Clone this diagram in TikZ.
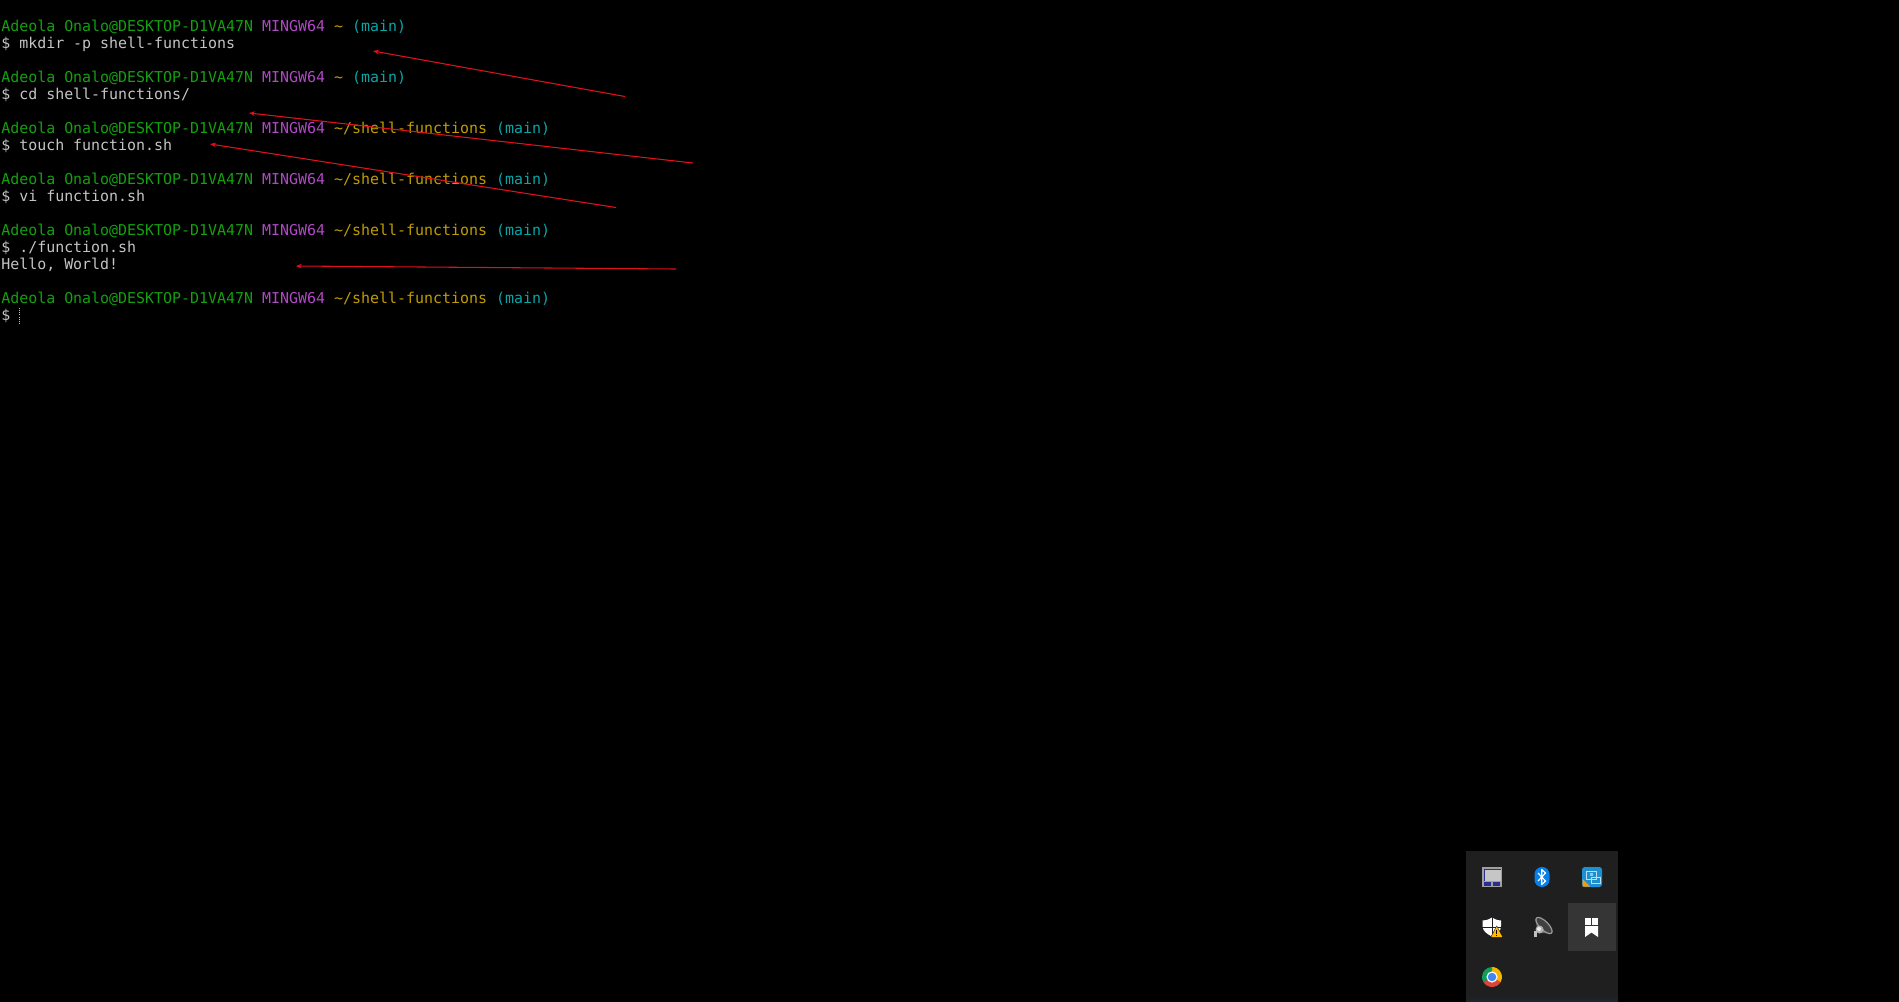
\documentclass[tikz,border=0pt]{standalone}
\usepackage{fontspec}
\setmonofont{DejaVu Sans Mono}
\usetikzlibrary{arrows.meta}
\definecolor{cgreen}{HTML}{13A10E}
\definecolor{cpurple}{HTML}{B148C6}
\definecolor{cyellow}{HTML}{C19C00}
\definecolor{cteal}{HTML}{0AA5A5}
\definecolor{cgrey}{HTML}{C4C4C4}
\definecolor{cred}{HTML}{E0101C}
\definecolor{traybg}{HTML}{1F1F1F}
\definecolor{trayfoot}{HTML}{1C2832}
\definecolor{trayhi}{HTML}{353535}
\definecolor{padblue}{HTML}{2A2F8F}
\definecolor{btblue}{HTML}{0A7FEA}
\definecolor{appblue}{HTML}{1E8FD0}
\definecolor{warnyellow}{HTML}{FFB900}
\definecolor{chromered}{HTML}{DB4437}
\definecolor{chromeyellow}{HTML}{F4B400}
\definecolor{chromegreen}{HTML}{0F9D58}
\definecolor{chromeblue}{HTML}{4285F4}
\newcommand{\prompt}[1]{\textcolor{cgreen}{Adeola Onalo@DESKTOP-D1VA47N} \textcolor{cpurple}{MINGW64} \textcolor{cyellow}{#1} \textcolor{cteal}{(main)}}
\begin{document}
\begin{tikzpicture}[x=0.75pt, y=-0.75pt]
\tikzset{
    termline/.style= {anchor=west, inner sep=0pt, text=cgrey, font=\ttfamily\fontsize{11.21}{13}\selectfont},
    redarrow/.style= {-{Stealth[length=4.5pt,width=3.5pt]}, draw=cred, line width=0.8pt},
    traycell/.style= {anchor=north west, inner sep=0pt, fill=trayhi, minimum width=36pt, minimum height=36pt},
}
\useasboundingbox (0,0) rectangle (1899,1001);
\fill[black] (-3,-3) rectangle (1902,1004);

\node[termline] (p1) at (1,27) {\prompt{\textasciitilde}};
\node[termline] (c1) at (1,44) {\$ mkdir -p shell-functions};
\node[termline] (p2) at (1,78) {\prompt{\textasciitilde}};
\node[termline] (c2) at (1,95) {\$ cd shell-functions/};
\node[termline] (p3) at (1,129) {\prompt{\textasciitilde/shell-functions}};
\node[termline] (c3) at (1,146) {\$ touch function.sh};
\node[termline] (p4) at (1,180) {\prompt{\textasciitilde/shell-functions}};
\node[termline] (c4) at (1,197) {\$ vi function.sh};
\node[termline] (p5) at (1,231) {\prompt{\textasciitilde/shell-functions}};
\node[termline] (c5) at (1,248) {\$ ./function.sh};
\node[termline] (o5) at (1,265) {Hello, World!};
\node[termline] (p6) at (1,299) {\prompt{\textasciitilde/shell-functions}};
\node[termline] (c6) at (1,316) {\$};

\coordinate (curtop) at (19.5,308);
\coordinate (curbot) at (19.5,324);
\draw[cgrey, line width=0.6pt, densely dotted] (curtop) -- (curbot);

\coordinate (t1) at (625,96.5);
\coordinate (h1) at (373,51);
\coordinate (t2) at (693,163);
\coordinate (h2) at (249,113);
\coordinate (t3) at (616,207.5);
\coordinate (h3) at (210,144);
\coordinate (t4) at (676,269);
\coordinate (h4) at (296,266);

\draw[redarrow] (t1) -- (h1);
\draw[redarrow] (t2) -- (h2);
\draw[redarrow] (t3) -- (h3);
\draw[redarrow] (t4) -- (h4);

% tray popup
\begin{scope}[shift={(0,1)}]
\fill[traybg] (1466,850) rectangle (1618,1003);
\shade[top color=traybg, bottom color=trayfoot] (1466,994) rectangle (1618,1003);
\node[traycell] (hicell) at (1568,902) {};

% touchpad
\fill[gray!75] (1482,866) rectangle (1502,886);
\fill[padblue] (1483.5,867.5) rectangle (1500.5,879.5);
\fill[gray!45] (1485,869) rectangle (1500.5,879.5);
\fill[padblue] (1484,881) rectangle (1491,885);
\fill[padblue] (1493,881) rectangle (1500,885);

% bluetooth
\fill[btblue, rounded corners=5.5pt] (1534.5,866) rectangle (1549.5,886);
\draw[white, line width=0.9pt, line join=round] (1538,872) -- (1545.5,880) -- (1541.7,883.5) -- (1541.7,868.5) -- (1545.5,872) -- (1538,880);

% blue app icon
\fill[appblue, rounded corners=2pt] (1582,866) rectangle (1602,886);
\fill[orange!80!yellow] (1582.5,885.5) -- (1582.5,878) -- (1590,885.5) -- cycle;
\draw[white!70!appblue, line width=0.5pt] (1586,870) rectangle (1596,878);
\draw[white!70!appblue, line width=0.5pt] (1591,876) rectangle (1600,882);
\fill[white!50!appblue] (1590,871.5) rectangle (1593,875);

% shield with warning
\fill[white] (1492,916.5) .. controls (1488,919) and (1485,919.5) .. (1482.5,919.5) -- (1482.5,925) .. controls (1482.5,930) and (1487,933) .. (1492,935.5) .. controls (1497,933) and (1501,930) .. (1501,925) -- (1501,919.5) .. controls (1499,919.5) and (1496,919) .. (1492,916.5) -- cycle;
\draw[traybg, line width=0.5pt] (1492,916) -- (1492,936) (1482,926) -- (1502,926);
\fill[traybg] (1490,937) -- (1496.7,924.5) -- (1503.5,937) -- cycle;
\fill[warnyellow] (1491.3,936) -- (1496.7,925.5) -- (1502.3,936) -- cycle;
\fill[black] (1496.2,928.5) rectangle (1497.2,932.8);
\fill[black] (1496.2,933.5) rectangle (1497.2,934.8);

% speaker
\fill[black!60] (1535,918) -- (1552,932) -- (1542,932) -- (1537,926) -- cycle;
\draw[gray!80, line width=0.9pt, fill=black!75, rotate around={-45:(1544,924.5)}] (1544,924.5) ellipse (8pt and 3.2pt);
\fill[gray!60] (1539.5,928.5) circle (3pt);
\fill[white!85!gray] (1539,928) circle (1.5pt);
\fill[gray!50] (1534,930) rectangle (1537,936);

% bookmark
\fill[white] (1585,917) rectangle (1591,924);
\fill[white] (1592,917) rectangle (1598,924);
\fill[white] (1585,925) -- (1598,925) -- (1598,936) -- (1591.5,931.5) -- (1585,936) -- cycle;

% chrome
\fill[chromered] (1492,976) -- ++(150:10) arc (150:30:10) -- cycle;
\fill[chromeyellow] (1492,976) -- ++(30:10) arc (30:-90:10) -- cycle;
\fill[chromegreen] (1492,976) -- ++(-90:10) arc (-90:-210:10) -- cycle;
\fill[white] (1492,976) circle (4.2pt);
\fill[chromeblue] (1492,976) circle (3.2pt);
\end{scope}
\end{tikzpicture}
\end{document}
